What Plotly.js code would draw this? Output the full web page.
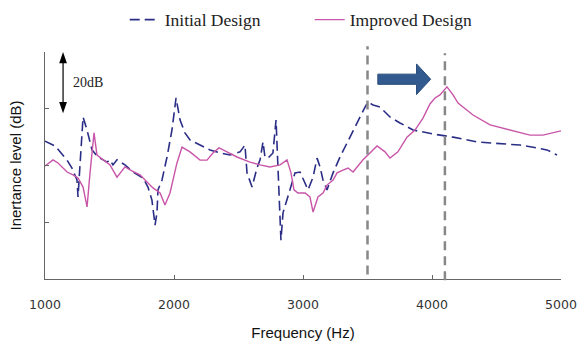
<!DOCTYPE html>
<html>
<head>
<meta charset="utf-8">
<script src="https://cdn.plot.ly/plotly-3.0.1.min.js"></script>
<style>html,body{margin:0;padding:0;background:#fff;}#chart{width:580px;height:347px;}</style>
</head>
<body>
<div id="chart"></div>
<script>
// Initial design (Hz, dB relative)
var initialFreq = [1000,1078,1171,1209,1248,1256,1264,1287,1295,1326,1364,1411,1481,1504,1527,1558,1620,1682,1760,1798,1829,1853,1868,1876,1907,1946,1984,2016,2047,2085,2124,2202,2279,2357,2434,2512,2550,2566,2605,2643,2667,2690,2705,2729,2767,2791,2806,2829,2845,2876,2899,2938,2977,3016,3039,3078,3109,3132,3155,3186,3233,3287,3364,3426,3481,3504,3543,3597,3674,3752,3853,4008,4163,4349,4504,4682,4814,4891,4969];
var initialLevel = [48.6,46.9,41.9,39.1,34.9,28.9,34.9,49.0,57.1,52.5,45.5,43.0,41.2,42.0,40.2,42.0,40.2,37.7,35.6,32.4,27.8,19.0,23.3,31.4,34.9,43.0,52.5,63.8,56.0,51.5,49.0,47.2,45.5,44.4,43.7,44.8,47.2,37.4,32.4,39.1,42.0,48.3,43.0,42.6,44.4,56.0,37.4,13.7,23.3,27.8,31.4,37.4,37.7,33.8,31.4,35.9,42.6,39.5,34.9,31.4,37.4,43.0,50.0,56.0,60.6,62.4,61.3,60.6,57.1,55.0,52.5,51.1,50.0,48.3,47.9,47.2,46.2,45.5,43.7];
// Improved design
var improvedFreq = [1000,1062,1101,1171,1217,1256,1295,1326,1349,1380,1403,1450,1504,1558,1597,1620,1674,1736,1791,1837,1892,1930,1969,2008,2023,2062,2124,2202,2256,2302,2349,2411,2488,2589,2667,2744,2822,2876,2907,2930,2961,3016,3054,3078,3116,3155,3186,3233,3264,3310,3349,3388,3465,3519,3574,3636,3674,3736,3806,3868,3930,3984,4023,4062,4116,4163,4202,4240,4318,4450,4605,4760,4860,5000];
var improvedLevel = [39.8,42.0,40.9,37.7,36.7,35.6,32.4,25.4,37.4,51.5,43.7,42.0,40.2,35.9,38.4,39.5,38.1,36.7,34.2,32.1,30.3,26.1,30.3,38.4,40.9,46.5,44.8,41.9,41.9,44.4,46.2,44.8,43.0,41.2,40.2,39.5,40.2,42.0,37.4,31.4,30.3,30.3,28.9,23.6,28.9,30.3,33.1,34.9,37.4,38.4,39.1,37.7,42.0,44.4,46.9,44.8,42.6,44.8,50.0,52.5,56.7,61.7,63.8,64.9,67.7,64.9,62.0,60.6,57.8,54.3,52.5,50.7,50.7,52.2];
var seriesNames = ['Initial Design','Improved Design'];
var xTicks = [1000,2000,3000,4000,5000];
var yTicks = [0,20,40,60,80];
var peakMarkers = [3500,4100];

var traces = [
  {x: initialFreq, y: initialLevel, name: seriesNames[0], type:'scatter', mode:'lines',
   line:{color:'#2B2E86', width:1.6, dash:'10px,5px'}},
  {x: improvedFreq, y: improvedLevel, name: seriesNames[1], type:'scatter', mode:'lines',
   line:{color:'#C855A8', width:1.4}}
];

var shapes = [];
peakMarkers.forEach(function(f, i){
  shapes.push({type:'line', xref:'x', yref:'paper', x0:f, x1:f, y0: i===0?0.02:-0.005, y1: i===0?1.025:0.995,
    line:{color:'#888888', width:2.5, dash:'9px,6px'}, layer:'above'});
});
// block arrow showing the shift
shapes.push({type:'path', xref:'x', yref:'y', layer:'above',
  path:'M 3580 72.2 L 3880 72.2 L 3880 75.8 L 3990 70.4 L 3880 65.0 L 3880 68.6 L 3580 68.6 Z',
  fillcolor:'#335A8E', line:{color:'#2A4E7E', width:1}});
// 20dB scale arrow
shapes.push({type:'line', xref:'x', yref:'y', x0:1140, x1:1140, y0:61, y1:77, line:{color:'#000', width:1.2}});
shapes.push({type:'path', xref:'x', yref:'y', path:'M 1140 80 L 1110 76 L 1170 76 Z', fillcolor:'#000', line:{width:0}});
shapes.push({type:'path', xref:'x', yref:'y', path:'M 1140 58.4 L 1110 62.4 L 1170 62.4 Z', fillcolor:'#000', line:{width:0}});

var layout = {
  width:580, height:347,
  margin:{l:45, r:19, t:52, b:68},
  paper_bgcolor:'#fff', plot_bgcolor:'#fff',
  showlegend:true,
  legend:{orientation:'h', x:0.215, xanchor:'left', y:0.995, yanchor:'top', yref:'container', xref:'container',
    font:{family:'Liberation Serif, serif', size:17.5, color:'#222'}, entrywidth:140, bgcolor:'rgba(0,0,0,0)'},
  xaxis:{range:[1000,5000], tickvals:xTicks, ticktext:xTicks.map(String), ticks:'inside', ticklen:4,
    tickcolor:'#666', showline:true, linecolor:'#666', linewidth:1, showgrid:false, zeroline:false,
    ticklabelstandoff:14,
    tickfont:{family:'DejaVu Sans, sans-serif', size:12.5, color:'#333'},
    title:{text:'Frequency (Hz)', font:{family:'Liberation Sans, Arial, sans-serif', size:15, color:'#111'}, standoff:16}},
  yaxis:{range:[0,80], tickvals:yTicks, showticklabels:false, ticks:'inside', ticklen:4,
    tickcolor:'#666', showline:true, linecolor:'#666', linewidth:1, showgrid:false, zeroline:false,
    title:{text:'Inertance level (dB)', font:{family:'Liberation Sans, Arial, sans-serif', size:15, color:'#111'}, standoff:18}},
  shapes:shapes,
  annotations:[{x:1205, y:69.4, xref:'x', yref:'y', text:'20dB', showarrow:false, xanchor:'left', yanchor:'middle',
    font:{family:'Liberation Serif, serif', size:14, color:'#222'}}]
};
Plotly.newPlot('chart', traces, layout, {displayModeBar:false, staticPlot:true});
</script>
</body>
</html>
